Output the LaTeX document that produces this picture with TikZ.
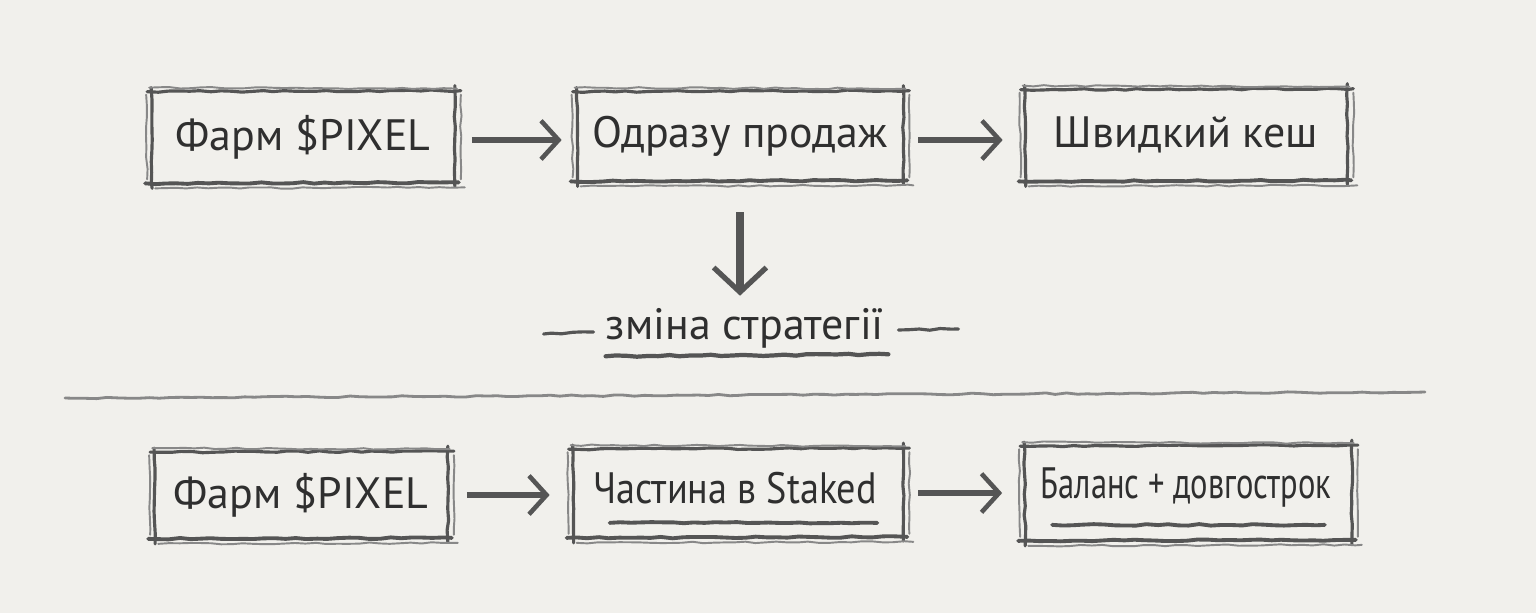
\documentclass[tikz,border=0pt]{standalone}
\usepackage{fontspec}
\setmainfont{PT Sans}
\usetikzlibrary{arrows.meta,decorations.pathmorphing,calc}
\definecolor{PaperBg}{HTML}{F1F0EC}
\definecolor{PencilInk}{HTML}{2F2F2F}
\definecolor{PencilLine}{HTML}{555555}
\definecolor{PencilSoft}{HTML}{888888}
\tikzset{
  pencil/.style={draw=PencilLine,line width=1.8pt,line cap=round,decorate,decoration={random steps,segment length=6pt,amplitude=0.45pt}},
  pencilsoft/.style={pencil,draw=PencilSoft,line width=1.1pt},
  stepbox/.style={inner sep=0pt,text=PencilInk,font=\fontsize{25}{30}\selectfont},
  flowarrow/.style={draw=PencilLine,line width=3.4pt,-{Straight Barb[length=10pt,width=22pt,line width=2.6pt]}}
}
\newcommand{\sketchframe}[1]{%
  \draw[pencil] ($(#1.north west)+(-4,0)$) -- ($(#1.north east)+(6,-1)$);
  \draw[pencil,line width=2.2pt] ($(#1.south west)+(-6,1)$) -- ($(#1.south east)+(4,0)$);
  \draw[pencil] ($(#1.north west)+(0,-4)$) -- ($(#1.south west)+(1,6)$);
  \draw[pencil] ($(#1.north east)+(0,-6)$) -- ($(#1.south east)+(0,4)$);
  \draw[pencilsoft] ($(#1.north west)+(-2,-4)$) -- ($(#1.north east)+(2,-3)$);
  \draw[pencilsoft] ($(#1.south west)+(4,6)$) -- ($(#1.south east)+(10,5)$);
  \draw[pencilsoft] ($(#1.north west)+(-5,3)$) -- ($(#1.south west)+(-4,-3)$);
  \draw[pencilsoft] ($(#1.north east)+(6,3)$) -- ($(#1.south east)+(6,-3)$);
}
\begin{document}
\begin{tikzpicture}[x=0.02cm,y=-0.02cm]
    \fill[PaperBg] (0,0) rectangle (1536,613);
    \useasboundingbox (0,0) rectangle (1536,613);
    % top row
    \node[stepbox,minimum width=303*0.02cm,minimum height=90*0.02cm] (farmTop) at (303,137) {Фарм \$PIXEL};
    \node[stepbox,minimum width=326*0.02cm,minimum height=88*0.02cm] (sellNow) at (740,136) {Одразу продаж};
    \node[stepbox,minimum width=322*0.02cm,minimum height=90*0.02cm] (quickCash) at (1186,135) {Швидкий кеш};
    \foreach \n in {farmTop,sellNow,quickCash} {\sketchframe{\n}}
    \draw[flowarrow,shorten <=0.34cm,shorten >=0.3cm] ($(farmTop.east)+(0,3)$) -- ($(sellNow.west)+(0,4)$);
    \draw[flowarrow,shorten <=0.3cm,shorten >=0.44cm] ($(sellNow.east)+(0,4)$) -- ($(quickCash.west)+(0,5)$);
    % change of strategy
    \node[stepbox] (switchLbl) at (745,328) {зміна стратегії};
    \draw[flowarrow,line width=4pt,shorten <=0.64cm,shorten >=0.24cm,-{Straight Barb[length=14pt,width=30pt,line width=3pt]}] (sellNow.south) -- (switchLbl.north -| sellNow.south);
    \draw[pencil] ($(switchLbl.west)+(-12,4)$) -- ($(switchLbl.west)+(-62,6)$);
    \draw[pencil] ($(switchLbl.east)+(14,2)$) -- ($(switchLbl.east)+(74,1)$);
    \draw[pencil,line width=2.4pt] ($(switchLbl.south west)+(0,8)$) -- ($(switchLbl.south east)+(4,6)$);
    \draw[pencilsoft,line width=1.6pt] (65,398) -- (1425,392);
    % bottom row
    \node[stepbox,minimum width=293*0.02cm,minimum height=85*0.02cm] (farmBot) at (301,495) {Фарм \$PIXEL};
    \node[stepbox,minimum width=330*0.02cm,minimum height=87*0.02cm] (stakePart) at (738,493) {};
    \node[stepbox] (stakeTxt) at (735,488) {\scalebox{0.87}[1]{Частина в Staked}};
    \node[stepbox,minimum width=327*0.02cm,minimum height=93*0.02cm] (balanceLong) at (1188,493) {};
    \node[stepbox] (balanceTxt) at (1186,488) {\scalebox{0.74}[1]{Баланс + довгострок}};
    \foreach \n in {farmBot,stakePart,balanceLong} {\sketchframe{\n}}
    \draw[pencil,line width=2.2pt] ($(stakePart.south west)+(37,-14)$) -- ($(stakePart.south east)+(-26,-14)$);
    \draw[pencil,line width=2.2pt] ($(balanceLong.south west)+(28,-15)$) -- ($(balanceLong.south east)+(-27,-15)$);
    \draw[flowarrow,shorten <=0.38cm,shorten >=0.46cm] (farmBot.east) -- (farmBot.east -| stakePart.west);
    \draw[flowarrow,shorten <=0.3cm,shorten >=0.44cm] (stakePart.east) -- (stakePart.east -| balanceLong.west);
  \end{tikzpicture}
\end{document}
